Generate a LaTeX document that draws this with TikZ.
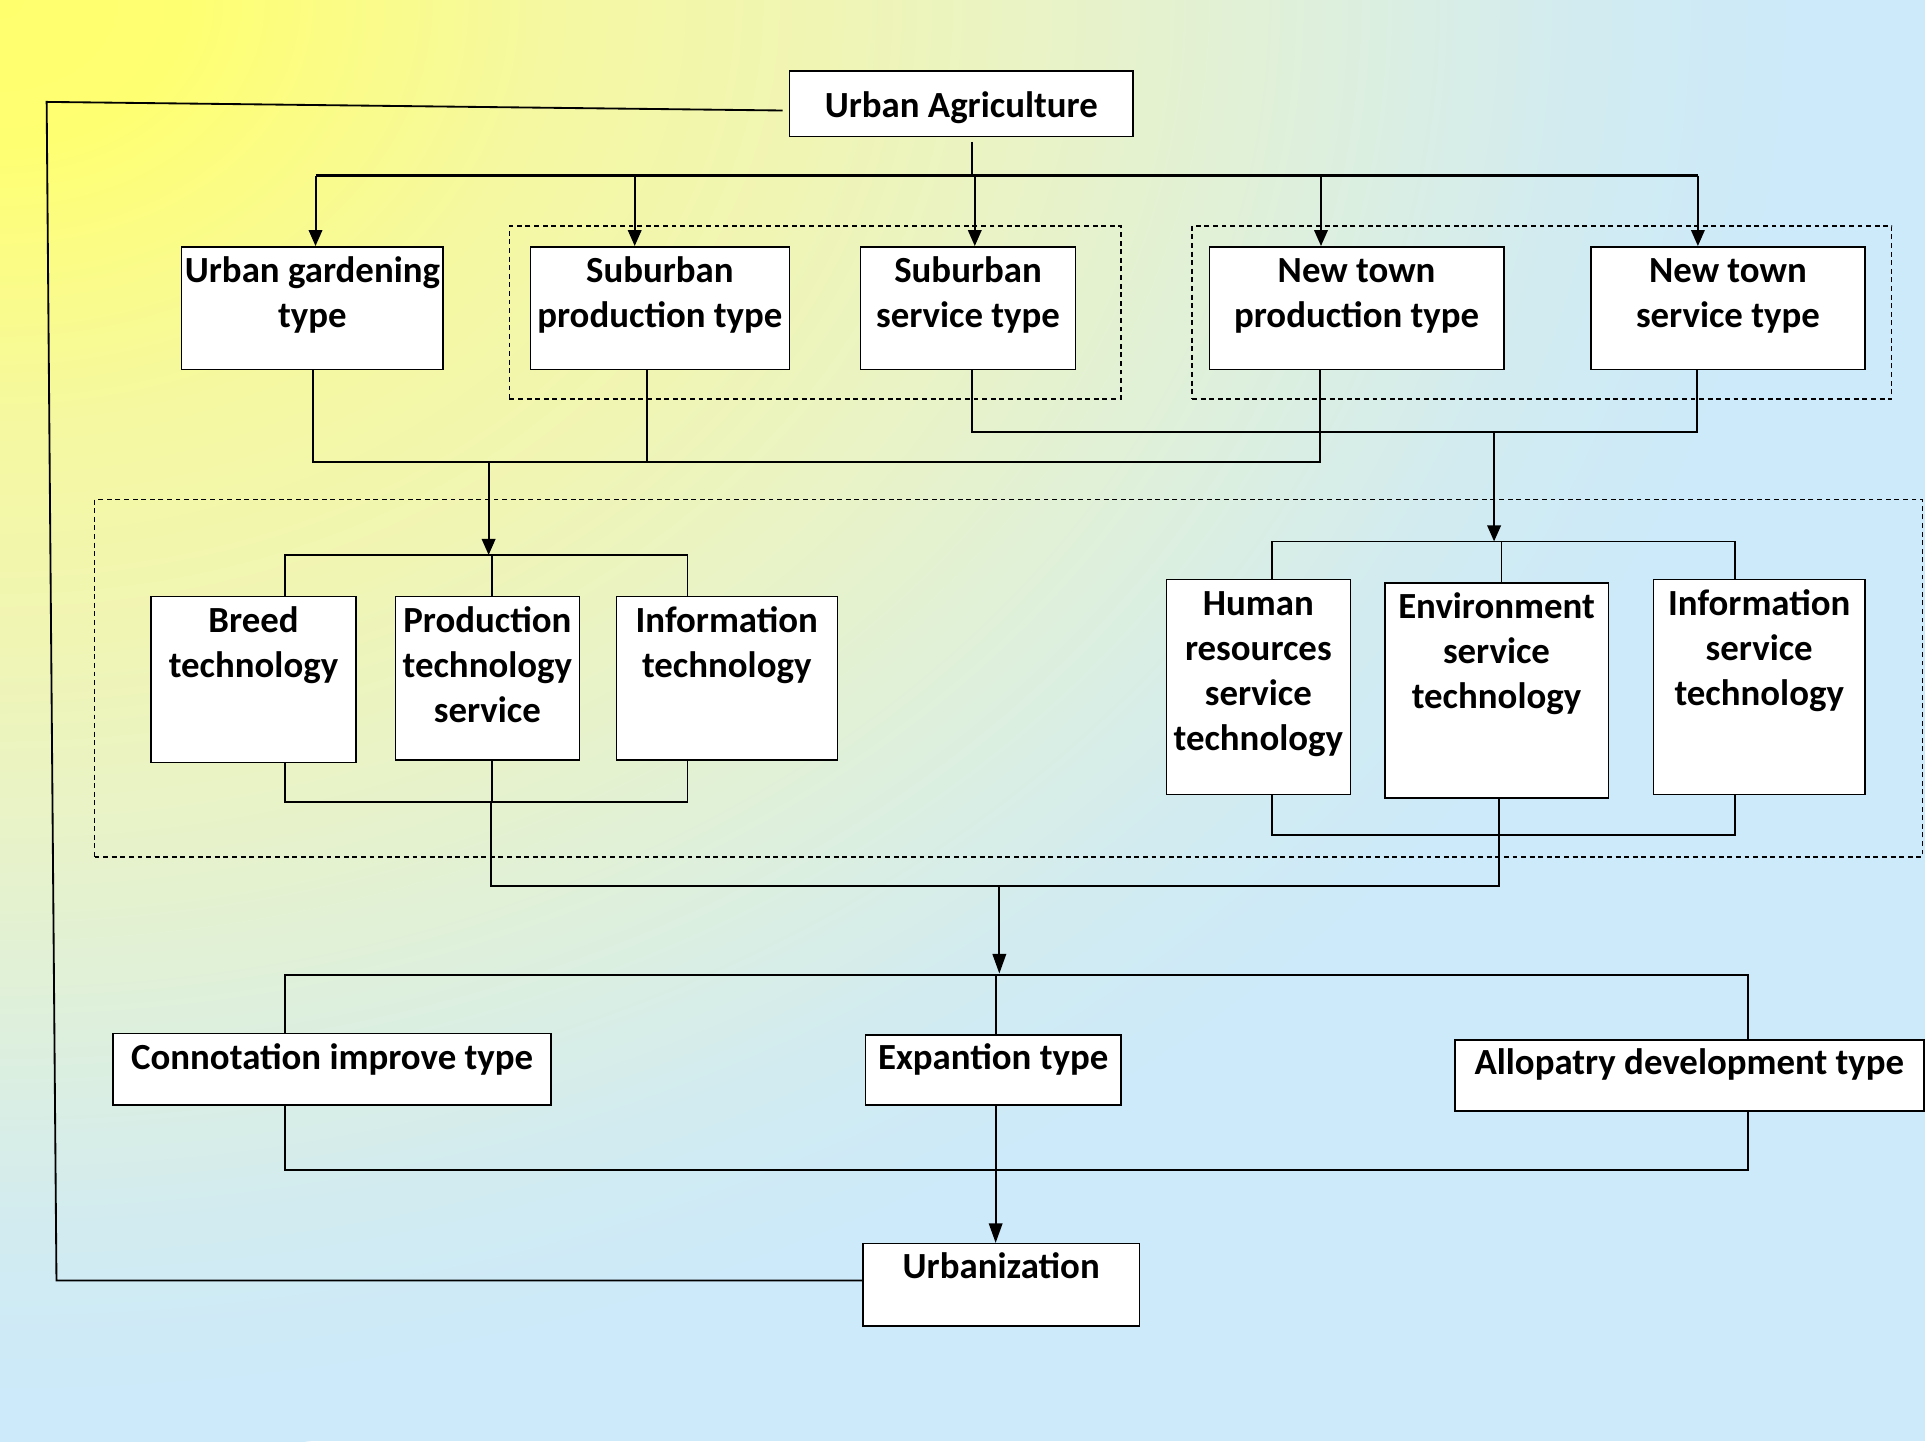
\documentclass[tikz,border=0pt]{standalone}
\usepackage{fontspec}
\setmainfont{Carlito}
\usetikzlibrary{arrows.meta,calc,fit}
\definecolor{bgA}{RGB}{255,255,110}
\definecolor{bgB}{RGB}{255,255,114}
\definecolor{bgC}{RGB}{245,248,160}
\definecolor{bgD}{RGB}{240,245,180}
\definecolor{bgE}{RGB}{230,242,205}
\definecolor{bgF}{RGB}{222,240,220}
\definecolor{bgH}{RGB}{210,235,240}
\definecolor{bgG}{RGB}{204,234,250}
\pgfdeclareradialshading{bgshade}{\pgfpoint{0bp}{0bp}}{color(0bp)=(bgA); color(2.5bp)=(bgB); color(7.25bp)=(bgC); color(11bp)=(bgD); color(15bp)=(bgE); color(17.5bp)=(bgF); color(21bp)=(bgH); color(24bp)=(bgG); color(50bp)=(bgG)}
\begin{document}
\begin{tikzpicture}[x=0.5pt,y=-0.5pt,
  box/.style={draw,fill=white,line width=0.6pt,inner sep=0pt},
  txt/.style={font=\fontsize{15}{18.3}\selectfont\bfseries,align=center,inner sep=0pt,anchor=north},
  ln/.style={line width=0.75pt},
  arr/.style={line width=0.8pt,-{Triangle[length=6.5pt,width=5.5pt]}},
  dbox/.style={draw,dash pattern=on 2pt off 1.5pt,line width=0.5pt,inner sep=0pt}]
\useasboundingbox (0,0) rectangle (1568,1174);
\begin{scope}
\clip (0,0) rectangle (1568,1174);
\fill[bgG] (0,0) rectangle (1568,1174);
\shade[shading=bgshade] (0,0) ellipse (1530 and 1190);
\end{scope}
% dashed groups
\node[dbox,fit={(415,184) (913,325)}] (g1) {};
\node[dbox,fit={(971,184) (1541,325)}] (g2) {};
\node[dbox,fit={(77,407) (1566,698)}] (g3) {};
% boxes
\node[box,fit={(643,58) (923,111)}] (ua) {};
\node[txt,anchor=center] (uat) at ($(ua.center)+(0,3)$) {Urban Agriculture};
\node[box,fit={(148,201) (361,301)}] (ug) {};
\node[txt] (ugt) at ($(ug.north)+(0,4)$) {\strut Urban gardening\\type};
\node[box,fit={(432,201) (643,301)}] (sp) {};
\node[txt] (spt) at ($(sp.north)+(0,4)$) {\strut Suburban\\production type};
\node[box,fit={(701,201) (876,301)}] (ss) {};
\node[txt] (sst) at ($(ss.north)+(0,4)$) {\strut Suburban\\service type};
\node[box,fit={(985,201) (1225,301)}] (np) {};
\node[txt] (npt) at ($(np.north)+(0,4)$) {\strut New town\\production type};
\node[box,fit={(1296,201) (1519,301)}] (ns) {};
\node[txt] (nst) at ($(ns.north)+(0,4)$) {\strut New town\\service type};
\node[box,fit={(123,486) (290,621)}] (bt) {};
\node[txt] (btt) at ($(bt.north)+(0,3.5)$) {\strut Breed\\technology};
\node[box,fit={(322,486) (472,619)}] (pt) {};
\node[txt] (ptt) at ($(pt.north)+(0,3.5)$) {\strut Production\\technology\\service};
\node[box,fit={(502,486) (682,619)}] (it) {};
\node[txt] (itt) at ($(it.north)+(0,3.5)$) {\strut Information\\technology};
\node[box,fit={(950,472) (1100,647)}] (hr) {};
\node[txt] (hrt) at ($(hr.north)+(0,4)$) {\strut Human\\resources\\service\\technology};
\node[box,fit={(1128,475) (1310,650)}] (es) {};
\node[txt] (est) at ($(es.north)+(0,3.5)$) {\strut Environment\\service\\technology};
\node[box,fit={(1347,472) (1519,647)}] (is) {};
\node[txt] (ist) at ($(is.north)+(0,4)$) {\strut Information\\service\\technology};
\node[box,fit={(92,842) (449,900)}] (ci) {};
\node[txt] (cit) at ($(ci.north)+(0,3.5)$) {\strut Connotation improve type};
\node[box,fit={(705,843) (913,900)}] (ex) {};
\node[txt] (ext) at ($(ex.north)+(0,3)$) {\strut Expantion type};
\node[box,fit={(1185,847) (1567,905)}] (al) {};
\node[txt] (alt) at ($(al.north)+(0,3)$) {\strut Allopatry development type};
\node[box,fit={(703,1013) (928,1080)}] (urb) {};
\node[txt] (urbt) at ($(urb.north)+(0,3)$) {\strut Urbanization};
% top distribution
\coordinate (t0) at (792,143);
\coordinate (tA) at (257,143);
\coordinate (tB) at (517,143);
\coordinate (tC) at (794,143);
\coordinate (tD) at (1076,143);
\coordinate (tE) at (1383,143);
\draw[ln] ($(t0 |- ua.south)+(0,4)$) -- (t0);
\draw[ln,line width=0.9pt] (tA) -- (tE);
\draw[arr] (tA) -- (tA |- ug.north);
\draw[arr] (tB) -- (tB |- sp.north);
\draw[arr] (tC) -- (tC |- ss.north);
\draw[arr] (tD) -- (tD |- np.north);
\draw[arr] (tE) -- (tE |- ns.north);
% feedback line
\coordinate (fb1) at (38,83);
\coordinate (fb2) at (46,1043);
\draw[ln] ($(ua.west)+(-5,5.5)$) -- (fb1) -- (fb2) -- (urb.west |- fb2);
% merge 1
\coordinate (m1) at (398,376);
\coordinate (m1L) at (255,376);
\coordinate (m1S) at (527,376);
\coordinate (m1R) at (1075,376);
\coordinate (lbA) at (398,452);
\draw[ln] (m1L |- ug.south) -- (m1L) -- (m1R) -- (m1R |- np.south);
\draw[ln] (m1S |- sp.south) -- (m1S);
\draw[arr] (m1) -- (lbA);
% merge 2
\coordinate (m2) at (1217,352);
\coordinate (m2L) at (792,352);
\coordinate (m2R) at (1382,352);
\coordinate (rbA) at (1217,441);
\draw[ln] (m2L |- ss.south) -- (m2L) -- (m2R) -- (m2R |- ns.south);
\draw[arr] (m2) -- (rbA);
% left group
\coordinate (lbL) at (232,452);
\coordinate (lbM) at (401,452);
\coordinate (lbR) at (560,452);
\draw[ln] (lbL |- bt.north) -- (lbL) -- (lbR) -- (lbR |- it.north);
\draw[ln] (lbM) -- (lbM |- pt.north);
\coordinate (lcL) at (232,653);
\coordinate (lcM) at (401,653);
\coordinate (lcR) at (560,653);
\draw[ln] (lcL |- bt.south) -- (lcL) -- (lcR) -- (lcR |- it.south);
\draw[ln] (lcM |- pt.south) -- (lcM);
% right group
\coordinate (rbL) at (1036,441);
\coordinate (rbM) at (1223,441);
\coordinate (rbR) at (1413,441);
\draw[ln] (rbL |- hr.north) -- (rbL) -- (rbR) -- (rbR |- is.north);
\draw[ln] (rbM) -- (rbM |- es.north);
\coordinate (rcL) at (1036,680);
\coordinate (rcR) at (1413,680);
\draw[ln] (rcL |- hr.south) -- (rcL) -- (rcR) -- (rcR |- is.south);
% merge 3
\coordinate (m3L) at (400,722);
\coordinate (m3R) at (1221,722);
\coordinate (m3) at (814,722);
\coordinate (bbA) at (814,793);
\draw[ln] (400,653) -- (m3L) -- (m3R) -- (m3R |- es.south);
\draw[arr,-{Triangle[length=8pt,width=5.5pt]}] (m3) -- (bbA);
% lower distribution
\coordinate (bL) at (232,794);
\coordinate (bM) at (811,794);
\coordinate (bR) at (1424,794);
\draw[ln] (bL |- ci.north) -- (bL) -- (bR) -- (bR |- al.north);
\draw[ln] (bM) -- (bM |- ex.north);
\coordinate (cL) at (232,953);
\coordinate (cR) at (1424,953);
\draw[ln] (cL |- ci.south) -- (cL) -- (cR) -- (cR |- al.south);
\coordinate (cM) at (811,953);
\draw[arr,-{Triangle[length=8pt,width=5.5pt]}] (cM |- ex.south) -- (cM |- urb.north);
\end{tikzpicture}
\end{document}
